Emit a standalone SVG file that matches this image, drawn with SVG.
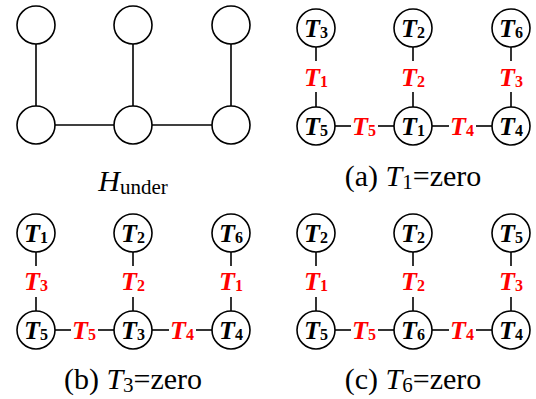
<svg xmlns="http://www.w3.org/2000/svg" width="536" height="399" viewBox="0 0 536 399">
<style>
.n{fill:#fff;stroke:#000;stroke-width:1.6}
.e{stroke:#000;stroke-width:1.6}
text{font-family:"Liberation Serif","Times New Roman",Times,serif}
.lb{font-weight:bold;font-size:26px;text-anchor:middle;fill:#000}
.lb .i{font-style:italic}
.lb .s{font-size:16px;font-style:normal}
.red{fill:#f00}
.cap{font-size:30px;text-anchor:middle;fill:#000}
.cap .i{font-style:italic}
.cap .s{font-size:21px}
</style>
<rect width="536" height="399" fill="#fff"/>

<!-- H_under -->
<g id="connectors-h">
<line class="e" x1="36" y1="44" x2="36" y2="106"/>
<line class="e" x1="133" y1="44" x2="133" y2="106"/>
<line class="e" x1="231" y1="44" x2="231" y2="106"/>
<line class="e" x1="55" y1="125" x2="114" y2="125"/>
<line class="e" x1="152" y1="125" x2="212" y2="125"/>
</g>
<g id="h-n1"><circle class="n" cx="36" cy="25" r="19"/></g>
<g id="h-n2"><circle class="n" cx="133" cy="25" r="19"/></g>
<g id="h-n3"><circle class="n" cx="231" cy="25" r="19"/></g>
<g id="h-n4"><circle class="n" cx="36" cy="125" r="19"/></g>
<g id="h-n5"><circle class="n" cx="133" cy="125" r="19"/></g>
<g id="h-n6"><circle class="n" cx="231" cy="125" r="19"/></g>
<text class="cap" x="133" y="191"><tspan class="i">H</tspan><tspan class="s" dy="3">under</tspan></text>

<!-- (a) -->
<g id="connectors-a">
<line class="e" x1="316" y1="47" x2="316" y2="61"/>
<line class="e" x1="316" y1="92" x2="316" y2="107"/>
<line class="e" x1="413" y1="47" x2="413" y2="61"/>
<line class="e" x1="413" y1="92" x2="413" y2="107"/>
<line class="e" x1="511" y1="47" x2="511" y2="61"/>
<line class="e" x1="511" y1="92" x2="511" y2="107"/>
<line class="e" x1="335" y1="126" x2="351" y2="126"/>
<line class="e" x1="378" y1="126" x2="394" y2="126"/>
<line class="e" x1="432" y1="126" x2="449" y2="126"/>
<line class="e" x1="476" y1="126" x2="492" y2="126"/>
<text class="lb red" x="316" y="86"><tspan class="i">T</tspan><tspan class="s" dy="1">1</tspan></text>
<text class="lb red" x="413" y="86"><tspan class="i">T</tspan><tspan class="s" dy="1">2</tspan></text>
<text class="lb red" x="511" y="86"><tspan class="i">T</tspan><tspan class="s" dy="1">3</tspan></text>
<text class="lb red" x="364" y="135"><tspan class="i">T</tspan><tspan class="s" dy="1">5</tspan></text>
<text class="lb red" x="462" y="135"><tspan class="i">T</tspan><tspan class="s" dy="1">4</tspan></text>
</g>
<g id="a-n1"><circle class="n" cx="316" cy="28" r="19"/><text class="lb" x="316" y="37"><tspan class="i">T</tspan><tspan class="s" dy="1">3</tspan></text></g>
<g id="a-n2"><circle class="n" cx="413" cy="28" r="19"/><text class="lb" x="413" y="37"><tspan class="i">T</tspan><tspan class="s" dy="1">2</tspan></text></g>
<g id="a-n3"><circle class="n" cx="511" cy="28" r="19"/><text class="lb" x="511" y="37"><tspan class="i">T</tspan><tspan class="s" dy="1">6</tspan></text></g>
<g id="a-n4"><circle class="n" cx="316" cy="126" r="19"/><text class="lb" x="316" y="135"><tspan class="i">T</tspan><tspan class="s" dy="1">5</tspan></text></g>
<g id="a-n5"><circle class="n" cx="413" cy="126" r="19"/><text class="lb" x="413" y="135"><tspan class="i">T</tspan><tspan class="s" dy="1">1</tspan></text></g>
<g id="a-n6"><circle class="n" cx="511" cy="126" r="19"/><text class="lb" x="511" y="135"><tspan class="i">T</tspan><tspan class="s" dy="1">4</tspan></text></g>
<text class="cap" x="413" y="186">(a) <tspan class="i">T</tspan><tspan class="s" dy="3">1</tspan><tspan dy="-3">=zero</tspan></text>

<!-- (b) -->
<g id="connectors-b">
<line class="e" x1="36" y1="252" x2="36" y2="266"/>
<line class="e" x1="36" y1="297" x2="36" y2="311"/>
<line class="e" x1="133" y1="252" x2="133" y2="266"/>
<line class="e" x1="133" y1="297" x2="133" y2="311"/>
<line class="e" x1="231" y1="252" x2="231" y2="266"/>
<line class="e" x1="231" y1="297" x2="231" y2="311"/>
<line class="e" x1="55" y1="330" x2="71" y2="330"/>
<line class="e" x1="98" y1="330" x2="114" y2="330"/>
<line class="e" x1="152" y1="330" x2="169" y2="330"/>
<line class="e" x1="196" y1="330" x2="212" y2="330"/>
<text class="lb red" x="36" y="290"><tspan class="i">T</tspan><tspan class="s" dy="1">3</tspan></text>
<text class="lb red" x="133" y="290"><tspan class="i">T</tspan><tspan class="s" dy="1">2</tspan></text>
<text class="lb red" x="231" y="290"><tspan class="i">T</tspan><tspan class="s" dy="1">1</tspan></text>
<text class="lb red" x="84" y="339"><tspan class="i">T</tspan><tspan class="s" dy="1">5</tspan></text>
<text class="lb red" x="182" y="339"><tspan class="i">T</tspan><tspan class="s" dy="1">4</tspan></text>
</g>
<g id="b-n1"><circle class="n" cx="36" cy="233" r="19"/><text class="lb" x="36" y="242"><tspan class="i">T</tspan><tspan class="s" dy="1">1</tspan></text></g>
<g id="b-n2"><circle class="n" cx="133" cy="233" r="19"/><text class="lb" x="133" y="242"><tspan class="i">T</tspan><tspan class="s" dy="1">2</tspan></text></g>
<g id="b-n3"><circle class="n" cx="231" cy="233" r="19"/><text class="lb" x="231" y="242"><tspan class="i">T</tspan><tspan class="s" dy="1">6</tspan></text></g>
<g id="b-n4"><circle class="n" cx="36" cy="330" r="19"/><text class="lb" x="36" y="339"><tspan class="i">T</tspan><tspan class="s" dy="1">5</tspan></text></g>
<g id="b-n5"><circle class="n" cx="133" cy="330" r="19"/><text class="lb" x="133" y="339"><tspan class="i">T</tspan><tspan class="s" dy="1">3</tspan></text></g>
<g id="b-n6"><circle class="n" cx="231" cy="330" r="19"/><text class="lb" x="231" y="339"><tspan class="i">T</tspan><tspan class="s" dy="1">4</tspan></text></g>
<text class="cap" x="133" y="389">(b) <tspan class="i">T</tspan><tspan class="s" dy="3">3</tspan><tspan dy="-3">=zero</tspan></text>

<!-- (c) -->
<g id="connectors-c">
<line class="e" x1="316" y1="252" x2="316" y2="266"/>
<line class="e" x1="316" y1="297" x2="316" y2="311"/>
<line class="e" x1="413" y1="252" x2="413" y2="266"/>
<line class="e" x1="413" y1="297" x2="413" y2="311"/>
<line class="e" x1="511" y1="252" x2="511" y2="266"/>
<line class="e" x1="511" y1="297" x2="511" y2="311"/>
<line class="e" x1="335" y1="330" x2="351" y2="330"/>
<line class="e" x1="378" y1="330" x2="394" y2="330"/>
<line class="e" x1="432" y1="330" x2="449" y2="330"/>
<line class="e" x1="476" y1="330" x2="492" y2="330"/>
<text class="lb red" x="316" y="290"><tspan class="i">T</tspan><tspan class="s" dy="1">1</tspan></text>
<text class="lb red" x="413" y="290"><tspan class="i">T</tspan><tspan class="s" dy="1">2</tspan></text>
<text class="lb red" x="511" y="290"><tspan class="i">T</tspan><tspan class="s" dy="1">3</tspan></text>
<text class="lb red" x="364" y="339"><tspan class="i">T</tspan><tspan class="s" dy="1">5</tspan></text>
<text class="lb red" x="462" y="339"><tspan class="i">T</tspan><tspan class="s" dy="1">4</tspan></text>
</g>
<g id="c-n1"><circle class="n" cx="316" cy="233" r="19"/><text class="lb" x="316" y="242"><tspan class="i">T</tspan><tspan class="s" dy="1">2</tspan></text></g>
<g id="c-n2"><circle class="n" cx="413" cy="233" r="19"/><text class="lb" x="413" y="242"><tspan class="i">T</tspan><tspan class="s" dy="1">2</tspan></text></g>
<g id="c-n3"><circle class="n" cx="511" cy="233" r="19"/><text class="lb" x="511" y="242"><tspan class="i">T</tspan><tspan class="s" dy="1">5</tspan></text></g>
<g id="c-n4"><circle class="n" cx="316" cy="330" r="19"/><text class="lb" x="316" y="339"><tspan class="i">T</tspan><tspan class="s" dy="1">5</tspan></text></g>
<g id="c-n5"><circle class="n" cx="413" cy="330" r="19"/><text class="lb" x="413" y="339"><tspan class="i">T</tspan><tspan class="s" dy="1">6</tspan></text></g>
<g id="c-n6"><circle class="n" cx="511" cy="330" r="19"/><text class="lb" x="511" y="339"><tspan class="i">T</tspan><tspan class="s" dy="1">4</tspan></text></g>
<text class="cap" x="413" y="389">(c) <tspan class="i">T</tspan><tspan class="s" dy="3">6</tspan><tspan dy="-3">=zero</tspan></text>
</svg>
